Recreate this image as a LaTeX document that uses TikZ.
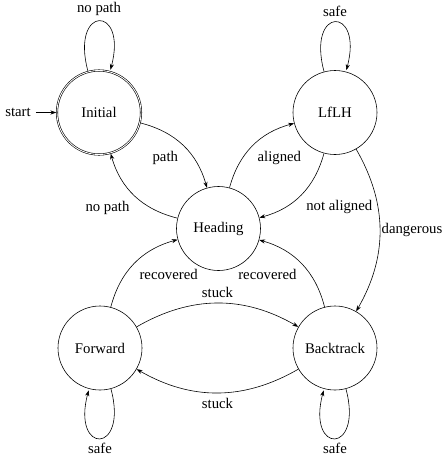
\documentclass[tikz,border=0pt]{standalone}
\usepackage{fontspec}
\setmainfont{Liberation Serif}
\usetikzlibrary{automata,arrows.meta}
\begin{document}
\begin{tikzpicture}[x=1cm/42,y=-1cm/42,
  >={Stealth[length=4pt,width=2.8pt]},
  every state/.style={draw,minimum size=2cm,inner sep=0pt,font=\normalsize},
  every edge/.style={draw,->}]
\useasboundingbox (0,0) rectangle (443,457);
\node[state,initial,accepting] (I) at (99,112.5) {Initial};
\node[state] (L) at (335,112.5) {LfLH};
\node[state] (H) at (218.5,228.5) {Heading};
\node[state] (F) at (100,348) {Forward};
\node[state] (B) at (335,348) {Backtrack};
\path[auto]
  (I) edge[loop above] node {no path} (I)
      edge[bend left] node[swap] {path} (H)
  (H) edge[bend left] node {no path} (I)
      edge[bend left] node[swap] {aligned} (L)
  (L) edge[loop above] node {safe} (L)
      edge[bend left] node {not aligned} (H)
      edge[bend left] node[inner sep=1pt] {dangerous} (B)
  (F) edge[bend left] node[swap] {recovered} (H)
      edge[bend left] node {stuck} (B)
      edge[loop below] node {safe} (F)
  (B) edge[bend right] node {recovered} (H)
      edge[bend left] node {stuck} (F)
      edge[loop below] node {safe} (B);
\end{tikzpicture}
\end{document}
